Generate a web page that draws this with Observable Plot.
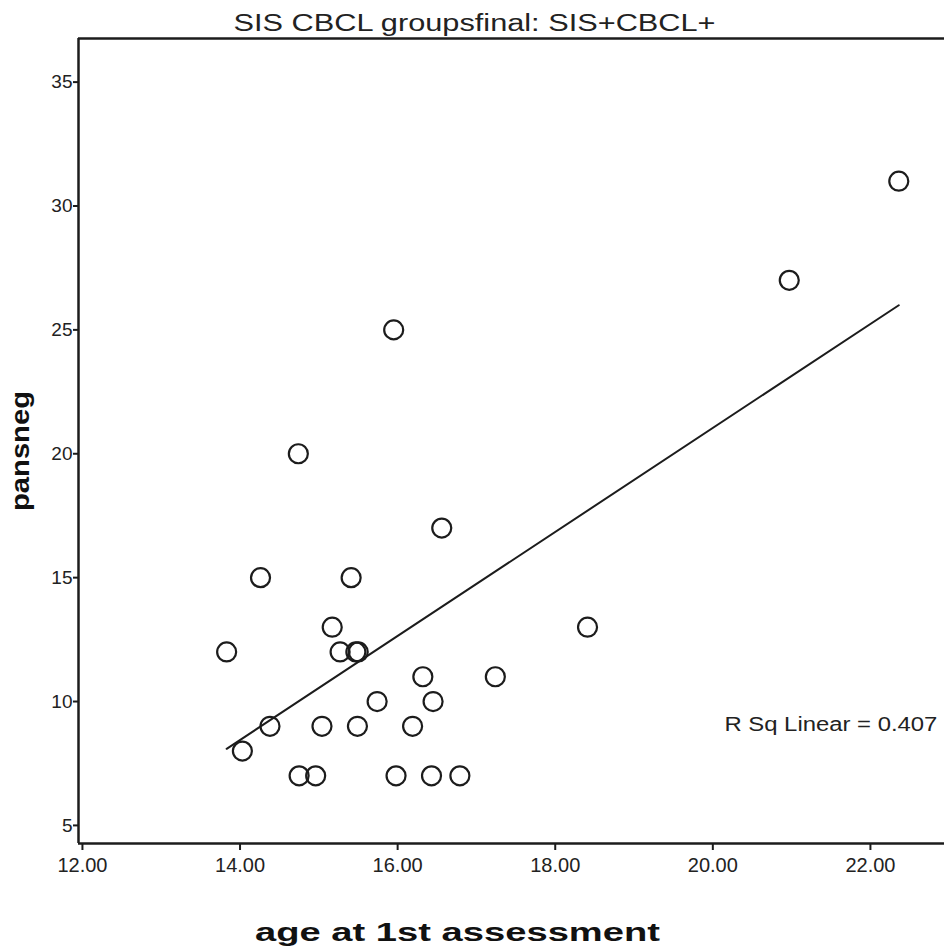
<!DOCTYPE html>
<html>
<head>
<meta charset="utf-8">
<script src="https://cdn.jsdelivr.net/npm/d3@7"></script>
<script src="https://cdn.jsdelivr.net/npm/@observablehq/plot@0.6"></script>
<style>
  html, body { margin: 0; padding: 0; background: #fff; }
  #chart svg { display: block; }
</style>
</head>
<body>
<div id="chart"></div>
<script>
// ---- data ----
const ages = [13.83, 14.03, 14.26, 14.38, 14.74, 14.75, 14.96, 15.04, 15.17, 15.27,
              15.41, 15.47, 15.50, 15.49, 15.74, 15.95, 15.98, 16.19, 16.32, 16.43,
              16.45, 16.56, 16.79, 17.24, 18.41, 20.97, 22.36];
const pansneg = [12, 8, 15, 9, 20, 7, 7, 9, 13, 12,
                 15, 12, 12, 9, 10, 25, 7, 9, 11, 7,
                 10, 17, 7, 11, 13, 27, 31];
const xTicks = [12, 14, 16, 18, 20, 22];
const yTicks = [5, 10, 15, 20, 25, 30, 35];
const xDomain = [11.95, 22.94];
const yDomain = [4.27, 36.76];
const titleText = "SIS CBCL groupsfinal: SIS+CBCL+";
const xLabel = "age at 1st assessment";
const yLabel = "pansneg";
const rsqLabel = "R Sq Linear = 0.407";
const rsqPos = {x: 22.85, y: 9.05};

const data = ages.map((a, i) => ({age: a, pansneg: pansneg[i]}));
const ink = "#1c1c1c";
const font = "Liberation Sans, Arial, sans-serif";

const chart = Plot.plot({
  width: 944,
  height: 947,
  marginLeft: 78,
  marginRight: 0,
  marginTop: 38,
  marginBottom: 104,
  style: {fontFamily: font, background: "#fff", overflow: "visible"},
  x: {domain: xDomain, ticks: xTicks},
  y: {domain: yDomain, ticks: yTicks},
  marks: [
    Plot.axisX({ticks: xTicks, tickSize: 7, tickPadding: 7, tickFormat: d => d.toFixed(2),
      fontSize: 20, stroke: ink, strokeWidth: 2, fill: "#222", label: null}),
    Plot.axisY({ticks: yTicks, tickSize: 5, tickPadding: 1, tickFormat: d => String(d),
      fontSize: 19, stroke: ink, strokeWidth: 2, fill: "#222", label: null}),
    Plot.ruleY([yDomain[1]], {stroke: ink, strokeWidth: 2.5}),
    Plot.ruleY([yDomain[0]], {stroke: ink, strokeWidth: 2.5}),
    Plot.ruleX([xDomain[0]], {stroke: ink, strokeWidth: 2.5}),
    Plot.linearRegressionY(data, {x: "age", y: "pansneg", stroke: ink, strokeWidth: 2, ci: 0}),
    Plot.dot(data, {x: "age", y: "pansneg", r: 9.5, stroke: ink, strokeWidth: 2.2, fill: "none"}),
    Plot.text([rsqLabel], {x: () => rsqPos.x, y: () => rsqPos.y, text: d => d,
      textAnchor: "end", fontSize: 20, fill: "#222"}),
    Plot.text([titleText], {frameAnchor: "top", dx: -37, dy: -15, text: d => d,
      fontSize: 23, fill: "#222", lineAnchor: "middle"}),
    Plot.text([xLabel], {frameAnchor: "bottom", dx: -54, dy: 89, text: d => d,
      fontSize: 25, fontWeight: "bold", fill: "#111", lineAnchor: "middle"}),
    Plot.text([yLabel], {frameAnchor: "left", textAnchor: "middle", dx: -58, dy: 10, text: d => d, rotate: -90,
      fontSize: 25, fontWeight: "bold", fill: "#111", lineAnchor: "middle"})
  ]
});
// stretch texts to match the reference's wider rendering
const stretch = {[titleText]: 482, [xLabel]: 405, [yLabel]: 120, [rsqLabel]: 213};
chart.querySelectorAll("text").forEach(t => {
  const w = stretch[t.textContent];
  if (w) { t.setAttribute("textLength", w); t.setAttribute("lengthAdjust", "spacingAndGlyphs"); }
});
document.getElementById("chart").appendChild(chart);
</script>
</body>
</html>
